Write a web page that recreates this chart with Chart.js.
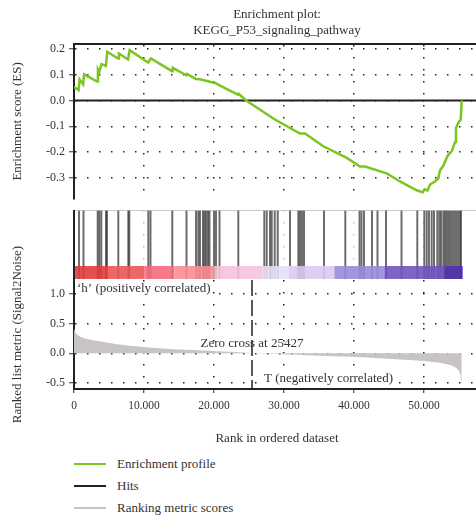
<!DOCTYPE html>
<html>
<head>
<meta charset="utf-8">
<title>Enrichment plot</title>
<script src="https://cdn.jsdelivr.net/npm/chart.js@4.4.1/dist/chart.umd.min.js"></script>
<style>
    html, body { margin: 0; padding: 0; background: #fff; overflow: hidden; }
    body { width: 476px; height: 519px; position: relative; font-family: "Liberation Serif", serif; color: #333; }
    canvas { position: absolute; left: 0; }
    #esChart { top: 0; }
    #hitsChart { top: 210px; }
    #rankChart { top: 240px; }
    #legend { position: absolute; left: 74px; top: 453px; font-size: 13px; }
    .legend-row { display: flex; align-items: center; height: 22px; }
    .legend-swatch { width: 32px; height: 2px; margin-right: 11px; }
</style>
</head>
<body>
<canvas id="esChart" width="484" height="210"></canvas>
<canvas id="hitsChart" width="484" height="70"></canvas>
<canvas id="rankChart" width="484" height="210"></canvas>
<div id="legend"></div>

<script>
// Ranked list: 0 .. X_MAX genes, zero crossing of the metric
const X_MAX = 58000;
const zeroCross = 25427;

// Running enrichment score
const esRanks = [0, 650, 800, 1300, 1450, 3300, 3420, 3600, 3930, 4550, 4750, 6300, 6420, 7720, 7950,
    10580, 10980, 14000, 14100, 16050, 16150, 17400, 18000, 19400, 20300, 20800, 23400, 23500, 24600,
    28470, 29900, 32290, 33000, 35610, 38960, 40860, 41570, 44670, 46570, 48960, 49810, 50100, 50500,
    50860, 51570, 52040, 52290, 52760, 53240, 53470, 53960, 54430, 54570, 54760, 55040, 55240, 55386];
const esValues = [0.052, 0.040, 0.081, 0.062, 0.101, 0.073, 0.120, 0.110, 0.140, 0.133, 0.188, 0.162, 0.181, 0.158, 0.194,
    0.146, 0.162, 0.113, 0.126, 0.097, 0.102, 0.083, 0.082, 0.072, 0.066, 0.058, 0.022, 0.026, 0.000,
    -0.070, -0.092, -0.128, -0.128, -0.177, -0.222, -0.255, -0.255, -0.282, -0.313, -0.347, -0.355, -0.343, -0.348,
    -0.325, -0.313, -0.301, -0.270, -0.252, -0.222, -0.210, -0.197, -0.161, -0.107, -0.095, -0.080, -0.076, 0.000];

// Positions of the gene set members in the ranked list
const hitRanks = [714, 1357, 3386, 3614, 3900, 4571, 4714, 6329, 7757, 7900, 10614, 10929, 14043, 16071,
    17429, 17757, 18000, 18429, 18643, 18857, 19143, 19357, 20000, 20286, 20786, 23471, 27186, 27529,
    28000, 28243, 28671, 29100, 30857, 32043, 32286, 32571, 32857, 35714, 38757, 40786, 41071, 41429,
    42571, 43357, 44571, 46786, 49043, 50043, 50386, 50714, 51100, 51429, 51900, 52186, 52429, 52757,
    53000, 53243, 53471, 53714, 54000, 54286, 54571, 54857, 55143, 55286];

// Signal2Noise ranking metric along the list
const metricRanks = [0, 150, 614, 1814, 3714, 6100, 9900, 14186, 19900, 25143, 25427, 26857, 29857,
    37000, 41814, 46571, 51329, 53243, 54671, 55143, 55386, 55400];
const metricValues = [0.42, 0.36, 0.30, 0.245, 0.20, 0.15, 0.105, 0.067, 0.04, 0.005, 0.0, -0.005, -0.017,
    -0.05, -0.072, -0.105, -0.145, -0.183, -0.255, -0.34, -0.505, 0.0];

// Colour strip under the hits (red = positive, blue = negative)
const stripEdges = [0, 4670, 9900, 14190, 19900, 26810, 30860, 37050, 44190, 52760, 55390];
const stripColors = ["#e23c3c", "#ec5656", "#f46a7c", "#fa8d93", "#f7c2de", "#e6def7", "#d8caef",
    "#9b8ad9", "#7152c1", "#5030b0"];

const esTicks = [0.2, 0.1, 0, -0.1, -0.2, -0.3];
const metricTicks = [1.0, 0.5, 0, -0.5];
const rankTicks = [0, 10000, 20000, 30000, 40000, 50000];
const rankTickLabels = ["0", "10.000", "20.000", "30.000", "40.000", "50.000"];

const esColor = "#7cc520";
const hitColor = "#222222";
const metricColor = "#c8c4c4";

Chart.defaults.font.family = '"Liberation Serif", serif';
Chart.defaults.color = "#333";
Chart.defaults.animation = false;

const dotted = [1.5, 10.5];
const fixWidth = (scale) => { scale.width = 74; };
const noHeight = (scale) => { scale.height = 0; };
const setTicks = (values) => (scale) => { scale.ticks = values.map((value) => ({ value })); };

const hiddenX = (gridColor, position) => ({
    type: "linear",
    position,
    min: 0,
    max: X_MAX,
    offset: false,
    afterBuildTicks: setTicks(rankTicks),
    afterFit: noHeight,
    ticks: { display: false },
    grid: { color: gridColor, lineWidth: 1.5, drawTicks: false, offset: false },
    border: { display: position === "top", color: "#222", width: 2, dash: dotted },
});

// Top panel: enrichment score
new Chart(document.getElementById("esChart"), {
    type: "line",
    data: {
        datasets: [
            {
                label: "Enrichment profile",
                data: esRanks.map((r, i) => ({ x: r, y: esValues[i] })),
                borderColor: esColor,
                borderWidth: 2.5,
                pointRadius: 0,
                order: 0,
            },
            {
                label: "zero",
                data: [{ x: 0, y: 0 }, { x: X_MAX, y: 0 }],
                borderColor: "#222",
                borderWidth: 2,
                pointRadius: 0,
                order: 1,
            },
        ],
    },
    options: {
        responsive: false,
        layout: { padding: { left: 0, right: 4, top: 0, bottom: 1 } },
        plugins: {
            legend: { display: false },
            tooltip: { enabled: false },
            title: {
                display: true,
                fullSize: false,
                text: ["Enrichment plot:", "KEGG_P53_signaling_pathway"],
                color: "#333",
                font: { size: 13, weight: "normal", lineHeight: 1.25 },
                padding: { top: 6, bottom: 5.5 },
            },
        },
        scales: {
            x: hiddenX("#222", "top"),
            y: {
                min: -0.38,
                max: 0.218,
                afterBuildTicks: setTicks(esTicks),
                afterFit: fixWidth,
                ticks: { font: { size: 12 }, padding: 4, callback: (v) => v.toFixed(1) },
                grid: { color: "#222", lineWidth: 1.5, tickLength: 5, tickColor: "#333", tickWidth: 1 },
                border: { color: "#222", width: 2, dash: dotted },
                title: { display: true, text: "Enrichment score (ES)", font: { size: 13 }, padding: { top: 10, bottom: 0 } },
            },
        },
    },
});

// Draws the coloured rank strip on top of the hit lines
const colourStrip = {
    id: "colourStrip",
    afterDatasetsDraw(chart) {
        const { ctx, scales: { x, y } } = chart;
        const top = y.getPixelForValue(0.2);
        const bottom = y.getPixelForValue(0.015);
        ctx.save();
        ctx.globalAlpha = 0.9;
        stripColors.forEach((color, i) => {
            const x0 = x.getPixelForValue(stripEdges[i]);
            const x1 = x.getPixelForValue(stripEdges[i + 1]);
            ctx.fillStyle = color;
            ctx.fillRect(x0 + 1, top, x1 - x0, bottom - top);
        });
        ctx.restore();
    },
};

// Middle panel: hit positions
new Chart(document.getElementById("hitsChart"), {
    type: "bar",
    data: {
        datasets: [{
            label: "Hits",
            data: hitRanks.map((r) => ({ x: r, y: [0.02, 0.985] })),
            backgroundColor: "rgba(50, 50, 50, 0.72)",
            barThickness: 1.3,
        }],
    },
    options: {
        responsive: false,
        layout: { padding: { left: 0, right: 4, top: 0, bottom: 0 } },
        plugins: { legend: { display: false }, tooltip: { enabled: false } },
        scales: {
            x: hiddenX("rgba(0, 0, 0, 0.25)", "bottom"),
            y: {
                min: 0,
                max: 1,
                afterBuildTicks: setTicks([0, 1]),
                afterFit: fixWidth,
                ticks: { display: false },
                grid: { color: "#c8c8c8", lineWidth: 1, drawTicks: false },
                border: { color: "#222", width: 2 },
            },
        },
    },
    plugins: [colourStrip],
});

// Labels inside the ranking metric panel
const rankNotes = {
    id: "rankNotes",
    afterDatasetsDraw(chart) {
        const { ctx, chartArea, scales: { x, y } } = chart;
        ctx.save();
        ctx.font = '13px "Liberation Serif"';
        ctx.textBaseline = "middle";
        ctx.textAlign = "left";
        const note = (text, left, py, boxed) => {
            const w = ctx.measureText(text).width;
            if (boxed) {
                ctx.fillStyle = "#fff";
                ctx.fillRect(left - 1, py - 7, w + 3, 14);
            }
            ctx.fillStyle = "#333";
            ctx.fillText(text, left, py);
        };
        note("\u2018h\u2019 (positively correlated)", chartArea.left + 3, chartArea.top + 9, true);
        const zx = x.getPixelForValue(zeroCross);
        const zText = "Zero cross at " + zeroCross;
        note(zText, zx - ctx.measureText(zText).width / 2, y.getPixelForValue(0.17), false);
        note("T (negatively correlated)", zx + 12, y.getPixelForValue(-0.43), true);
        ctx.restore();
    },
};

// Bottom panel: ranked list metric
new Chart(document.getElementById("rankChart"), {
    type: "line",
    data: {
        datasets: [
            {
                label: "Ranking metric scores",
                data: metricRanks.map((r, i) => ({ x: r, y: metricValues[i] })),
                borderWidth: 0,
                borderColor: metricColor,
                backgroundColor: metricColor,
                fill: "origin",
                pointRadius: 0,
                cubicInterpolationMode: "monotone",
                order: 1,
            },
            {
                label: "zero cross",
                data: [{ x: zeroCross, y: 1.23 }, { x: zeroCross, y: -0.6 }],
                borderColor: "#222",
                borderWidth: 1.5,
                borderDash: [16, 4],
                pointRadius: 0,
                order: 0,
            },
        ],
    },
    options: {
        responsive: false,
        layout: { padding: { left: 0, right: 4, top: 40, bottom: 0 } },
        plugins: { legend: { display: false }, tooltip: { enabled: false } },
        scales: {
            x: {
                type: "linear",
                min: 0,
                max: X_MAX,
                afterBuildTicks: setTicks(rankTicks),
                afterFit: (scale) => { scale.height = 61; },
                ticks: { font: { size: 11.5 }, padding: 6, maxRotation: 0, callback: (v, i) => rankTickLabels[i] },
                grid: { color: "#222", lineWidth: 1.5, tickLength: 4, tickColor: "#222", tickWidth: 1 },
                border: { color: "#222", width: 2, dash: dotted },
                title: { display: true, text: "Rank in ordered dataset", font: { size: 13 }, padding: { top: 0, bottom: 4 } },
            },
            y: {
                min: -0.6,
                max: 1.23,
                afterBuildTicks: setTicks(metricTicks),
                afterFit: fixWidth,
                ticks: { font: { size: 12 }, padding: 4, callback: (v) => v.toFixed(1) },
                grid: { color: "#222", lineWidth: 1.5, tickLength: 5, tickColor: "#333", tickWidth: 1 },
                border: { color: "#222", width: 2, dash: dotted },
                title: { display: true, text: "Ranked list metric (Signal2Noise)", font: { size: 13 }, padding: { top: 10, bottom: 0 } },
            },
        },
    },
    plugins: [rankNotes],
});

// Legend under the panels
const legendEntries = [
    { label: "Enrichment profile", color: esColor },
    { label: "Hits", color: hitColor },
    { label: "Ranking metric scores", color: metricColor },
];
const legend = document.getElementById("legend");
legendEntries.forEach((entry) => {
    const row = document.createElement("div");
    row.className = "legend-row";
    const swatch = document.createElement("span");
    swatch.className = "legend-swatch";
    swatch.style.background = entry.color;
    const text = document.createElement("span");
    text.textContent = entry.label;
    row.appendChild(swatch);
    row.appendChild(text);
    legend.appendChild(row);
});
</script>
</body>
</html>
